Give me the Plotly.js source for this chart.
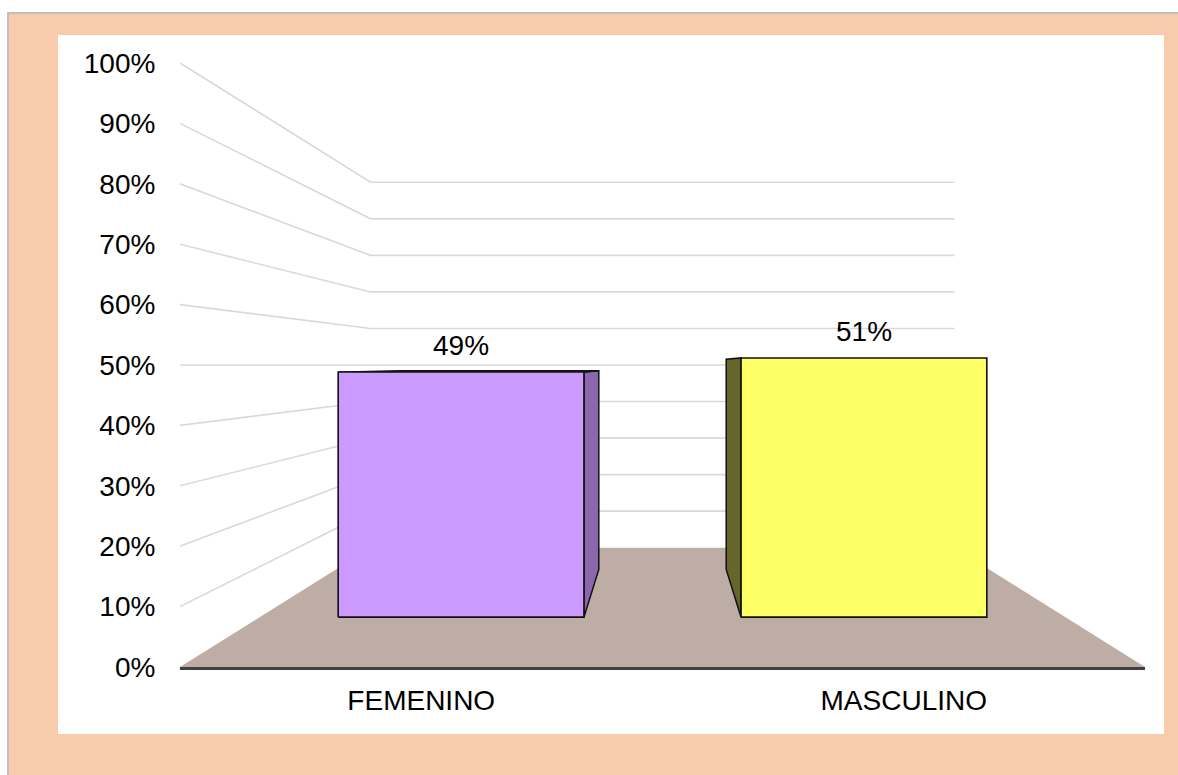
<!DOCTYPE html>
<html>
<head>
<meta charset="utf-8">
<script src="https://cdn.plot.ly/plotly-3.0.1.min.js"></script>
<style>
  html, body { margin: 0; padding: 0; background: #F8CBAD; width: 1178px; height: 775px; overflow: hidden; }
  #topstrip { position: absolute; left: 0; top: 0; width: 1178px; height: 12px; background: #ffffff; }
  #leftstrip { position: absolute; left: 0; top: 0; width: 7px; height: 775px; background: #ffffff; }
  #outer { position: absolute; left: 7px; top: 12px; width: 1171px; height: 763px; box-sizing: border-box;
           border-left: 2px solid #BFBFBF; border-top: 2px solid #BFBFBF; background: #F8CBAD; }
  #chart { position: absolute; left: 58px; top: 35px; width: 1106px; height: 699px; background: #ffffff; }
</style>
</head>
<body>
<div id="topstrip"></div>
<div id="leftstrip"></div>
<div id="outer"></div>
<div id="chart"></div>
<script>
// ---- data ----
const categories = ['FEMENINO', 'MASCULINO'];
const values = [48.6, 51.4];
const valueLabels = ['49%', '51%'];
const tickValues = [0, 10, 20, 30, 40, 50, 60, 70, 80, 90, 100];
const tickLabels = ['0%', '10%', '20%', '30%', '40%', '50%', '60%', '70%', '80%', '90%', '100%'];
const frontColors = ['#CC99FF', '#FFFF66'];
const sideColors = ['#8B67AD', '#66662A'];
const topColors = ['#B585E6', '#E6E65A'];

// ---- faux 3D projection (style geometry) ----
const N = categories.length;
const VX = N / 2;          // vanishing x (axis units)
const VY = 50;             // vanishing y (eye level, %)
const S_BACK = 0.605;      // scale of back wall
const S_BAR_FRONT = 0.835; // scale of bar front faces
const S_BAR_BACK = 0.677;  // scale of bar back faces
const BAR_W = 0.61;

function P(x, y, s) { return [VX + (x - VX) * s, VY + (y - VY) * s]; }
function poly(pts, fill, lineColor, lw) {
  const xs = pts.map(p => p[0]); const ys = pts.map(p => p[1]);
  xs.push(xs[0]); ys.push(ys[0]);
  return { type: 'scatter', mode: 'lines', x: xs, y: ys, fill: 'toself', fillcolor: fill,
           line: { color: lineColor, width: lw, shape: 'linear' }, hoverinfo: 'skip', showlegend: false };
}
function line(pts, color, lw) {
  return { type: 'scatter', mode: 'lines', x: pts.map(p => p[0]), y: pts.map(p => p[1]),
           line: { color: color, width: lw }, hoverinfo: 'skip', showlegend: false };
}

const traces = [];
// gridlines on left wall and back wall
tickValues.forEach(v => {
  if (v === 0) return;
  traces.push(line([P(0, v, 1), P(0, v, S_BACK), P(N, v, S_BACK)], '#D9D9D9', 1.6));
});
// floor
traces.push(poly([P(0, 0, 1), P(N, 0, 1), P(N, 0, S_BACK), P(0, 0, S_BACK)], '#BEADA4', 'rgba(0,0,0,0)', 0));

// bars
const annotations = [];
values.forEach((v, i) => {
  const x0 = i + 0.5 - BAR_W / 2, x1 = i + 0.5 + BAR_W / 2;
  if (x1 < VX) {
    traces.push(poly([P(x1, 0, S_BAR_FRONT), P(x1, v, S_BAR_FRONT), P(x1, v, S_BAR_BACK), P(x1, 0, S_BAR_BACK)], sideColors[i], '#111111', 1.5));
  } else if (x0 > VX) {
    traces.push(poly([P(x0, 0, S_BAR_FRONT), P(x0, v, S_BAR_FRONT), P(x0, v, S_BAR_BACK), P(x0, 0, S_BAR_BACK)], sideColors[i], '#111111', 1.5));
  }
  if (v < VY) {
    traces.push(poly([P(x0, v, S_BAR_FRONT), P(x1, v, S_BAR_FRONT), P(x1, v, S_BAR_BACK), P(x0, v, S_BAR_BACK)], topColors[i], '#111111', 1.2));
  }
  traces.push(poly([P(x0, 0, S_BAR_FRONT), P(x1, 0, S_BAR_FRONT), P(x1, v, S_BAR_FRONT), P(x0, v, S_BAR_FRONT)], frontColors[i], '#111111', 1.6));
  const top = P(i + 0.5, v, S_BAR_FRONT);
  annotations.push({ x: top[0], y: top[1], xref: 'x', yref: 'y', text: valueLabels[i], showarrow: false,
                     yanchor: 'bottom', xanchor: 'center', yshift: 9,
                     font: { family: 'Liberation Sans, Arial, sans-serif', size: 28, color: '#000000' } });
});

const layout = {
  width: 1106, height: 699,
  margin: { l: 122, r: 19, t: 28, b: 67 },
  paper_bgcolor: '#ffffff', plot_bgcolor: '#ffffff',
  font: { family: 'Liberation Sans, Arial, sans-serif', size: 28, color: '#000000' },
  showlegend: false,
  xaxis: { range: [0, N], tickmode: 'array', tickvals: categories.map((c, i) => i + 0.5), ticktext: categories,
           showgrid: false, zeroline: false, showline: true, linecolor: '#404040', linewidth: 3,
           ticks: 'outside', ticklen: 6, tickcolor: 'rgba(0,0,0,0)', fixedrange: true },
  yaxis: { range: [0, 100], tickmode: 'array', tickvals: tickValues, ticktext: tickLabels,
           showgrid: false, zeroline: false, showline: false,
           ticks: 'outside', ticklen: 18, tickcolor: 'rgba(0,0,0,0)', fixedrange: true },
  annotations: annotations
};

Plotly.newPlot('chart', traces, layout, { displayModeBar: false, staticPlot: true });
</script>
</body>
</html>
